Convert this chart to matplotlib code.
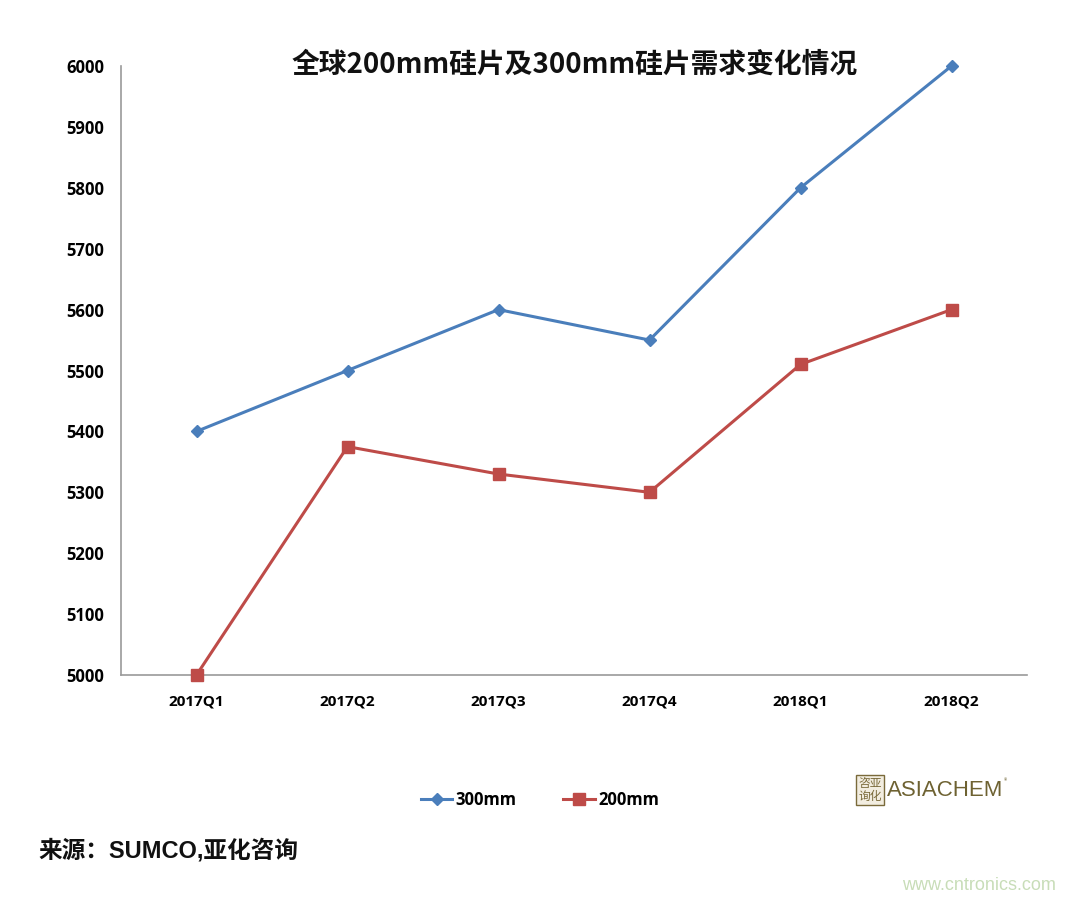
import matplotlib
matplotlib.use("Agg")
import matplotlib.pyplot as plt
from matplotlib.lines import Line2D

plt.rcParams['font.family'] = ['Noto Sans CJK SC', 'DejaVu Sans']

categories = ["2017Q1", "2017Q2", "2017Q3", "2017Q4", "2018Q1", "2018Q2"]
s300 = [5400, 5500, 5600, 5550, 5800, 6000]
s200 = [5000, 5375, 5330, 5300, 5510, 5600]
yticks = [5000, 5100, 5200, 5300, 5400, 5500, 5600, 5700, 5800, 5900, 6000]
title = "全球200mm硅片及300mm硅片需求变化情况"
source = "来源：SUMCO,亚化咨询"

blue = "#4A7EBB"
red = "#BE4B48"

fig = plt.figure(figsize=(10.8, 9.02), dpi=100)
ax = fig.add_axes([121/1080, 1-675/902, (1027-121)/1080, (675-66)/902])

x = list(range(len(categories)))
ax.plot(x, s300, color=blue, lw=2.2, marker='D', ms=6, mec=blue, mfc=blue, label="300mm", clip_on=False, zorder=3)
ax.plot(x, s200, color=red, lw=2.2, marker='s', ms=8, mec=red, mfc=red, label="200mm", clip_on=False, zorder=3)

ax.set_xlim(-0.5, len(categories) - 0.5)
ax.set_ylim(5000, 6000)
ax.set_yticks(yticks)
ax.set_yticklabels([str(v) for v in yticks], fontsize=12, fontweight='bold', family=['Open Sans', 'DejaVu Sans'])
ax.set_xticks(x)
ax.set_xticklabels(categories, fontsize=11, fontweight='bold', family=['Open Sans', 'DejaVu Sans'])
ax.tick_params(axis='both', length=0)
ax.tick_params(axis='y', pad=12)
ax.tick_params(axis='x', pad=14)
for s in ['top', 'right']:
    ax.spines[s].set_visible(False)
for s in ['left', 'bottom']:
    ax.spines[s].set_color('#9A9A9A')
    ax.spines[s].set_linewidth(1.2)

fig.text(575/1080, 1-65/902, title, ha='center', va='center', fontsize=20, fontweight='bold', color='#111111')

handles = [Line2D([0], [0], color=blue, lw=2.2, marker='D', ms=6),
           Line2D([0], [0], color=red, lw=2.2, marker='s', ms=8)]
fig.legend(handles, ["300mm", "200mm"], loc='center', bbox_to_anchor=(540/1080, 1-800/902),
           ncol=2, frameon=False, handlelength=1.9, handletextpad=0.2, columnspacing=2.8,
           prop={'family': ['Open Sans', 'DejaVu Sans'], 'weight': 'bold', 'size': 12})

fig.text(38/1080, 1-851/902, source, ha='left', va='center', fontsize=17, fontweight='bold', color='#111111',
         family=['Liberation Sans', 'Noto Sans CJK SC', 'DejaVu Sans'])

# logo
fig.text(870/1080, 1-790/902, "咨亚\n询化", ha='center', va='center', fontsize=8.5, color='#7A6A3A',
         linespacing=1.0, bbox=dict(boxstyle='square,pad=0.15', fc='#F2EDE0', ec='#7A6A3A', lw=1))
fig.text(887/1080, 1-791/902, "ASIACHEM", ha='left', va='center', fontsize=16, color='#6E6232',
         family=['Liberation Sans', 'DejaVu Sans'])
fig.text(1004/1080, 1-781/902, "®", ha='left', va='center', fontsize=5, color='#6E6232')

fig.text(979/1080, 1-886/902, "www.cntronics.com", ha='center', va='center', fontsize=13, color='#C8DDB8',
         family=['Liberation Sans', 'DejaVu Sans'])

fig.savefig("out.png", dpi=100, facecolor='white')
